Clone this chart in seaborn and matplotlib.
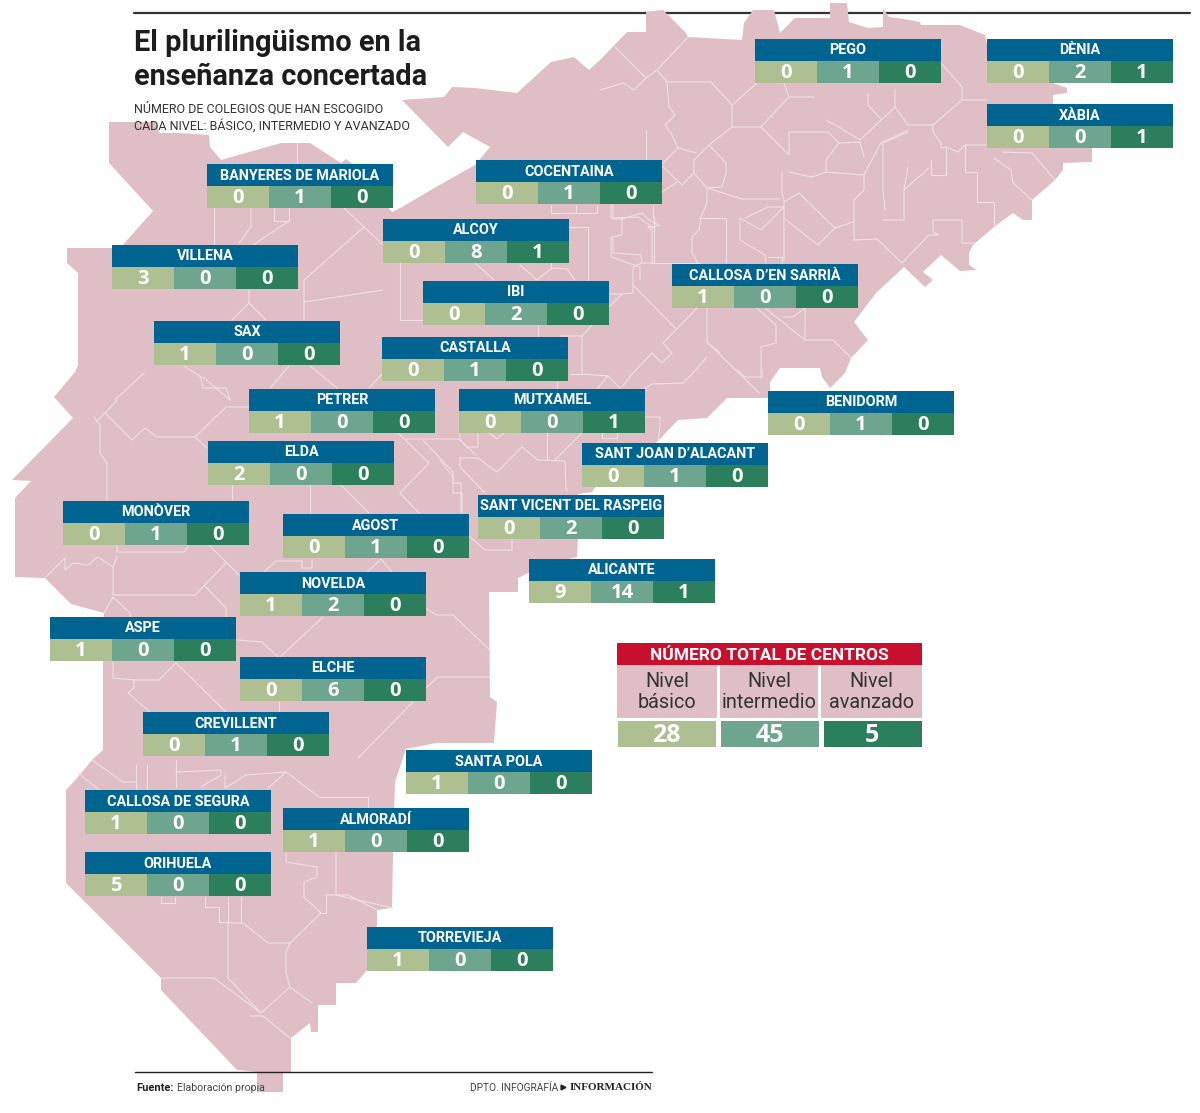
import matplotlib
matplotlib.use("Agg")
import matplotlib.pyplot as plt
from matplotlib.colors import ListedColormap
from matplotlib.patches import Rectangle
import numpy as np
import seaborn as sns

# data
towns = ["PEGO", "DÈNIA", "XÀBIA", "BANYERES DE MARIOLA", "COCENTAINA", "ALCOY", "VILLENA",
         "CALLOSA D’EN SARRIÀ", "IBI", "SAX", "CASTALLA", "PETRER", "MUTXAMEL", "BENIDORM",
         "ELDA", "SANT JOAN D’ALACANT", "MONÒVER", "AGOST", "SANT VICENT DEL RASPEIG",
         "NOVELDA", "ALICANTE", "ASPE", "ELCHE", "CREVILLENT", "SANTA POLA",
         "CALLOSA DE SEGURA", "ALMORADÍ", "ORIHUELA", "TORREVIEJA"]
basico = [0, 0, 0, 0, 0, 0, 3, 1, 0, 1, 0, 1, 0, 0, 2, 0, 0, 0, 0, 1, 9, 1, 0, 0, 1, 1, 1, 5, 1]
intermedio = [1, 2, 0, 1, 1, 8, 0, 0, 2, 0, 1, 0, 0, 1, 0, 1, 1, 1, 2, 2, 14, 0, 6, 1, 0, 0, 0, 0, 0]
avanzado = [0, 1, 1, 0, 0, 1, 0, 0, 0, 0, 0, 0, 1, 0, 0, 0, 0, 0, 0, 0, 1, 0, 0, 0, 0, 0, 0, 0, 0]
total_labels = ["Nivel\nbásico", "Nivel\nintermedio", "Nivel\navanzado"]
total_values = [28, 45, 5]

# top left corner of each card, in pixels
card_x = [755, 987, 987, 207, 476, 383, 112, 672, 423, 154, 382, 249, 459, 768, 208, 582, 63,
          283, 478, 240, 529, 50, 240, 143, 406, 85, 283, 85, 367]
card_y = [39, 39, 104, 164, 160, 219, 245, 264, 281, 321, 337, 389, 389, 391, 441, 443, 501,
          514, 495, 572, 559, 617, 657, 712, 750, 790, 808, 852, 927]

# province outline
outline = [(402, 100), (444, 97), (452, 87), (475, 88), (517, 93), (551, 62), (574, 57), (589, 70), (600, 60),
           (627, 32), (646, 32), (646, 12), (663, 10), (686, 33), (688, 37), (742, 40), (744, 23), (753, 10),
           (774, 10), (780, 33), (795, 18), (830, 18), (830, 3), (847, 3), (849, 22), (868, 28), (883, 27),
           (883, 8), (889, 17), (910, 20), (920, 22), (921, 25), (960, 25), (985, 35), (990, 60), (1053, 83),
           (1067, 88), (1067, 93), (1053, 95), (1053, 103), (1080, 125), (1092, 148), (1092, 162), (1063, 163),
           (1063, 170), (1055, 180), (1032, 200), (1032, 220), (1023, 220), (1013, 213), (994, 227), (973, 245),
           (969, 253), (969, 265), (977, 270), (960, 271), (941, 255), (923, 272), (933, 280), (925, 287),
           (904, 267), (876, 293), (854, 322), (868, 340), (851, 358), (845, 373), (830, 388), (822, 377),
           (820, 368), (780, 368), (770, 382), (770, 390), (768, 398), (727, 398), (707, 418), (678, 420),
           (657, 442), (620, 470), (597, 485), (592, 492), (578, 494), (578, 538), (577, 557), (545, 565),
           (518, 578), (518, 592), (489, 592), (490, 697), (497, 702), (494, 743), (436, 743), (406, 749),
           (395, 782), (393, 853), (392, 908), (377, 910), (377, 925), (367, 970), (356, 983), (336, 983),
           (336, 1005), (318, 1005), (318, 1032), (311, 1032), (310, 1023), (291, 1038), (291, 1072), (283, 1072),
           (283, 1092), (257, 1092), (257, 1072), (237, 1070), (161, 990), (161, 978), (66, 883), (66, 790),
           (78, 777), (92, 760), (103, 750), (103, 667), (104, 613), (71, 604), (45, 578), (15, 577), (15, 498),
           (31, 481), (12, 480), (73, 418), (54, 397), (75, 372), (78, 365), (78, 273), (67, 263), (67, 248),
           (120, 248), (153, 211), (109, 163), (109, 122), (157, 122), (159, 133), (180, 133), (209, 135),
           (210, 147), (221, 160), (281, 143), (310, 143), (341, 163), (346, 159), (354, 165), (392, 212),
           (402, 207), (436, 187), (475, 165), (490, 147), (463, 132), (448, 147)]

# municipal borders
borders = [
    [(214, 208), (214, 245)], [(251, 208), (251, 227), (239, 243)], [(274, 208), (274, 221), (289, 221), (289, 208)],
    [(289, 221), (253, 245)], [(297, 143), (297, 163)], [(344, 208), (383, 245)], [(364, 227), (304, 280), (304, 320)],
    [(304, 302), (383, 290)], [(400, 263), (400, 320), (423, 320)], [(475, 263), (494, 280)],
    [(520, 265), (537, 280), (552, 268), (567, 269), (575, 280)], [(551, 262), (551, 269)],
    [(249, 290), (249, 303), (232, 320)], [(249, 303), (266, 320)], [(538, 325), (538, 337)],
    [(289, 366), (270, 388)], [(310, 366), (337, 388)], [(383, 373), (369, 388)], [(144, 373), (115, 400)],
    [(184, 366), (201, 377), (203, 388), (226, 388), (230, 400)], [(203, 377), (230, 400)],
    [(94, 417), (100, 425), (100, 453), (107, 463), (107, 500)],
    [(96, 422), (105, 413), (132, 440), (145, 428), (157, 437), (195, 437), (226, 407), (249, 407)],
    [(105, 413), (117, 400)], [(195, 437), (207, 448)], [(232, 485), (232, 500)], [(310, 485), (310, 513)],
    [(341, 485), (369, 513)], [(398, 433), (429, 463), (400, 493), (419, 513)],
    [(423, 440), (453, 472), (453, 483), (461, 483), (461, 513)], [(406, 439), (459, 439), (476, 455)],
    [(460, 458), (460, 467), (485, 493)], [(460, 458), (478, 458), (497, 472), (522, 447), (538, 460), (565, 461), (566, 488), (567, 491)],
    [(547, 432), (547, 460)], [(555, 460), (583, 432)], [(602, 432), (602, 438), (617, 438), (617, 432)],
    [(643, 417), (660, 417), (660, 427), (658, 442)], [(460, 432), (460, 440), (467, 447), (478, 447), (478, 432)],
    [(487, 432), (497, 439), (505, 432)], [(468, 535), (485, 550), (512, 550), (512, 535)], [(553, 535), (558, 538), (563, 535)],
    [(117, 545), (117, 552), (184, 552), (189, 545)],
    [(117, 557), (113, 567), (98, 557), (88, 565), (73, 563), (65, 570), (65, 558), (46, 577)],
    [(113, 567), (113, 595), (195, 595), (226, 563)], [(209, 545), (239, 575)], [(205, 586), (226, 608), (226, 617)],
    [(113, 597), (130, 613), (130, 617)], [(104, 613), (113, 597)],
    [(264, 572), (276, 561), (302, 561), (302, 568), (312, 568), (312, 560)], [(367, 572), (381, 559), (392, 572)],
    [(426, 608), (436, 615), (453, 615), (490, 650)], [(323, 617), (279, 658)], [(237, 640), (262, 642), (279, 658)],
    [(113, 662), (113, 678), (134, 680), (159, 680), (176, 663)], [(176, 663), (226, 712)],
    [(134, 680), (134, 688), (128, 693), (151, 713)], [(279, 702), (279, 712)], [(413, 702), (358, 758)],
    [(426, 688), (438, 677), (490, 677)],
    [(78, 773), (103, 793)], [(92, 760), (123, 782), (136, 782)], [(136, 765), (136, 790)], [(147, 765), (147, 790)],
    [(176, 772), (221, 770), (221, 775), (201, 787)], [(176, 760), (176, 787)],
    [(225, 775), (225, 788), (246, 775), (286, 772), (319, 797)], [(286, 772), (268, 788)],
    [(319, 797), (368, 797), (368, 807)], [(336, 852), (336, 895), (393, 908)], [(326, 895), (348, 895), (377, 910)],
    [(326, 895), (326, 913), (319, 913)],
    [(304, 882), (304, 897), (321, 913), (290, 943), (268, 943), (243, 923), (228, 923), (228, 978), (261, 1013), (290, 987), (286, 973), (286, 952), (290, 943)],
    [(161, 978), (214, 978), (261, 1013)], [(250, 1016), (263, 1016), (290, 1038)], [(290, 987), (312, 1003)],
    [(205, 897), (205, 907), (219, 907), (219, 922), (228, 922)], [(241, 897), (241, 923)], [(228, 897), (228, 923)],
    [(161, 897), (161, 903), (175, 903), (175, 897)],
    [(286, 853), (286, 862), (317, 867), (317, 877), (304, 882)],
    [(688, 37), (657, 70), (646, 78), (615, 47)], [(646, 78), (634, 90), (623, 83), (600, 90)],
    [(657, 70), (667, 82), (711, 82), (732, 105), (732, 127), (761, 127), (789, 97), (814, 97)],
    [(667, 82), (669, 107), (675, 115), (665, 125)], [(732, 105), (757, 83)], [(784, 83), (789, 97)],
    [(761, 127), (789, 155), (789, 132), (828, 132), (839, 143)], [(732, 127), (709, 145), (726, 163), (726, 173), (722, 187), (707, 188), (742, 199), (768, 199), (780, 199)],
    [(709, 145), (694, 160), (694, 173), (707, 188), (707, 203), (701, 217), (699, 230), (692, 237), (692, 253), (699, 265)],
    [(646, 130), (646, 160)], [(665, 125), (671, 133), (678, 148), (696, 153)], [(678, 148), (661, 165), (682, 185), (694, 173)],
    [(661, 193), (677, 182)], [(654, 217), (654, 263), (699, 263)], [(611, 203), (611, 218), (638, 217), (654, 228)],
    [(611, 237), (611, 257), (640, 267), (640, 280)], [(782, 172), (782, 193), (784, 200), (784, 260)],
    [(789, 172), (812, 177), (826, 172), (864, 175), (864, 190), (854, 200), (854, 240)],
    [(826, 172), (826, 160), (839, 143), (860, 142), (864, 157)], [(826, 120), (839, 127), (860, 140), (895, 107)],
    [(868, 93), (868, 105), (881, 119)], [(895, 90), (895, 107), (908, 125), (933, 125), (962, 100), (987, 100)],
    [(962, 100), (962, 87), (941, 63)], [(933, 125), (933, 132), (941, 143), (941, 148), (946, 147), (958, 152), (965, 145), (987, 145)],
    [(908, 130), (881, 143), (868, 167), (864, 175)], [(908, 132), (883, 143), (883, 190), (885, 210)],
    [(908, 167), (904, 190), (904, 220), (883, 220)], [(929, 168), (904, 190)],
    [(931, 160), (931, 175), (946, 175), (946, 148)], [(965, 145), (965, 172), (977, 172), (977, 202), (994, 202), (994, 227)],
    [(994, 158), (1011, 170), (1013, 183), (1032, 200)], [(1002, 152), (1032, 153), (1055, 180)],
    [(853, 240), (877, 239), (902, 263)], [(902, 263), (929, 235), (939, 235), (933, 232), (933, 220), (962, 220), (962, 243), (975, 243)],
    [(786, 220), (818, 245), (835, 228), (799, 193), (784, 202)], [(835, 228), (853, 222)],
    [(699, 218), (726, 218), (726, 262)], [(740, 218), (740, 240), (765, 255), (766, 263)],
    [(740, 218), (761, 230), (784, 207), (768, 207), (745, 218)], [(768, 257), (782, 257), (782, 263)],
    [(698, 307), (663, 343), (672, 353), (662, 363), (652, 353), (633, 373), (622, 387)],
    [(707, 307), (707, 342), (759, 393)], [(707, 342), (720, 353)], [(633, 285), (675, 328)],
    [(757, 308), (776, 325), (776, 343), (761, 347), (761, 377)], [(765, 308), (805, 340), (833, 340), (851, 358)],
    [(784, 317), (793, 317), (805, 308), (805, 340)], [(707, 357), (693, 373), (683, 383), (652, 384), (643, 390)],
    [(551, 205), (551, 213), (597, 213), (597, 205)], [(576, 205), (576, 213)], [(568, 227), (588, 227), (588, 280)],
    [(613, 205), (613, 219), (622, 219), (642, 213), (648, 219), (660, 226), (648, 227), (652, 230), (652, 263), (642, 263), (641, 255), (613, 253), (613, 242), (612, 237), (622, 235), (622, 219)],
    [(652, 263), (700, 263)], [(653, 205), (653, 218)], [(642, 263), (633, 267), (633, 293), (622, 294), (609, 294)],
    [(622, 294), (609, 307)], [(592, 325), (582, 336), (560, 336)], [(582, 336), (582, 374), (608, 376), (620, 388)],
    [(608, 376), (597, 389)], [(570, 374), (582, 374)], [(557, 382), (557, 390)], [(440, 460), (453, 477), (453, 493), (462, 493), (462, 513)],
    [(737, 370), (745, 377), (762, 377), (762, 370)],
]

WIDTH, HEIGHT = 1200, 1113
CARD_W, HEAD_H, ROW_H = 186, 22, 22
LEVEL_COLORS = ["#aec092", "#6da58e", "#2b7f5c"]
BLUE = "#006491"
PINK = "#dfbfc5"

sns.set_theme(style="white")
NARROW = "Roboto"
level_cmap = ListedColormap(LEVEL_COLORS)

fig = plt.figure(figsize=(WIDTH / 100, HEIGHT / 100), dpi=100, facecolor="white")
ax = fig.add_axes([0, 0, 1, 1])
ax.set_xlim(0, WIDTH)
ax.set_ylim(HEIGHT, 0)
ax.axis("off")


def value_row(x, y, w, h, values, size, lw=0, text_y=0.56):
    # one row of coloured cells, drawn as a small heatmap
    sub = fig.add_axes([x / WIDTH, 1 - (y + h) / HEIGHT, w / WIDTH, h / HEIGHT])
    sns.heatmap(np.array([[0, 1, 2]]), ax=sub, cmap=level_cmap, vmin=-0.5, vmax=2.5, cbar=False,
                annot=np.array([values]), fmt="d", linewidths=lw, linecolor="white",
                xticklabels=False, yticklabels=False,
                annot_kws={"color": "white", "fontsize": size, "fontweight": "bold", "family": "Open Sans"})
    for t in sub.texts:
        t.set_y(text_y)
    return sub


# map
ax.plot([134, 1190], [13, 13], color="#333333", lw=1.6, zorder=1)
xs, ys = zip(*outline)
ax.fill(xs, ys, color=PINK, lw=0, zorder=2)
for line in borders:
    bx, by = zip(*line)
    ax.plot(bx, by, color="#efe0e3", lw=0.8, zorder=3, solid_joinstyle="miter")

# title block
ax.text(134, 43, "El plurilingüismo en la", fontsize=20.8, fontweight="bold", family=NARROW,
        color="#1c1c1c", va="center", zorder=5)
ax.text(134, 77, "enseñanza concertada", fontsize=20.8, fontweight="bold", family=NARROW,
        color="#1c1c1c", va="center", zorder=5)
ax.text(134, 109, "NÚMERO DE COLEGIOS QUE HAN ESCOGIDO", fontsize=9, family=NARROW,
        color="#333333", va="center", zorder=5)
ax.text(134, 126, "CADA NIVEL: BÁSICO, INTERMEDIO Y AVANZADO", fontsize=9, family=NARROW,
        color="#333333", va="center", zorder=5)

# town cards
for i, town in enumerate(towns):
    x, y = card_x[i], card_y[i]
    ax.add_patch(Rectangle((x, y), CARD_W, HEAD_H, color=BLUE, lw=0, zorder=4))
    ax.text(x + CARD_W / 2, y + HEAD_H / 2 + 0.5, town, color="white", fontsize=10.4, fontweight="bold",
            family=NARROW, ha="center", va="center", zorder=5)
    value_row(x, y + HEAD_H, CARD_W, ROW_H, [basico[i], intermedio[i], avanzado[i]], 14.5)

# totals box
ax.add_patch(Rectangle((617, 643), 305, 22, color="#c8102e", lw=0, zorder=4))
ax.text(769.5, 655, "NÚMERO TOTAL DE CENTROS", color="white", fontsize=12.5, fontweight="bold",
        family=NARROW, ha="center", va="center", zorder=5)
label_x = [617, 720, 821]
label_w = [100, 98, 101]
for lx, lw_, lab in zip(label_x, label_w, total_labels):
    ax.add_patch(Rectangle((lx, 665), lw_, 55, color=PINK, lw=0, zorder=4))
    ax.text(lx + lw_ / 2, 692, lab, color="#333333", fontsize=14.3, family=NARROW, ha="center",
            va="center", linespacing=1.1, zorder=5)
value_row(615.3, 718.3, 308.4, 30.4, total_values, 18, lw=2.5, text_y=0.58)

# footer
ax.plot([135, 652], [1072, 1072], color="#222222", lw=1, zorder=6)
ax.text(136, 1088, "Fuente:", fontsize=8, fontweight="bold", family=NARROW, color="#222222", va="center", zorder=7)
ax.text(177, 1088, "Elaboración propia", fontsize=7.6, family=NARROW, color="#444444", va="center", zorder=7)
ax.text(470, 1088, "DPTO. INFOGRAFÍA", fontsize=7.3, family=NARROW, color="#444444", va="center", zorder=7)
ax.plot([563], [1087], marker=">", color="#222222", ms=3.5, zorder=7)
ax.text(652, 1088, "INFORMACIÓN", fontsize=8, fontweight="bold", family="Liberation Serif", color="#222222",
        ha="right", va="center", zorder=7)

fig.savefig("out.png", dpi=100)
